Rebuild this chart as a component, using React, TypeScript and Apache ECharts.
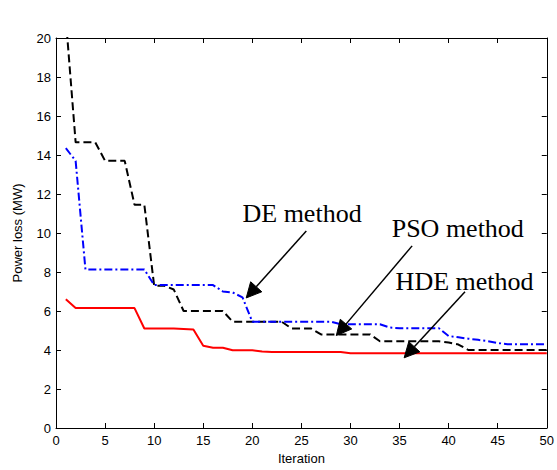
import React, { useEffect, useRef } from "react";
import * as echarts from "echarts";

const iterations = [
  1, 2, 3, 4, 5, 6, 7, 8, 9, 10, 11, 12, 13, 14, 15, 16, 17, 18, 19, 20, 21, 22, 23, 24, 25,
  26, 27, 28, 29, 30, 31, 32, 33, 34, 35, 36, 37, 38, 39, 40, 41, 42, 43, 44, 45, 46, 47, 48, 49, 50,
];

// PSO method (black dashed)
const psoLoss = [
  21, 14.65, 14.65, 14.65, 13.7, 13.7, 13.7, 11.45, 11.45, 7.3,
  7.3, 7.1, 6.0, 6.0, 6.0, 6.0, 6.0, 5.45, 5.45, 5.45,
  5.45, 5.45, 5.45, 5.1, 5.1, 5.1, 4.8, 4.8, 4.8, 4.8,
  4.8, 4.8, 4.45, 4.45, 4.45, 4.45, 4.45, 4.45, 4.45, 4.38,
  4.28, 4.0, 4.0, 4.0, 4.0, 4.0, 4.0, 4.0, 4.0, 4.0,
];

// DE method (blue dash-dot)
const deLoss = [
  14.35, 13.7, 8.13, 8.13, 8.13, 8.13, 8.13, 8.13, 8.13, 7.33,
  7.33, 7.33, 7.33, 7.33, 7.33, 7.33, 7.0, 6.95, 6.7, 5.45,
  5.45, 5.45, 5.45, 5.45, 5.45, 5.45, 5.45, 5.45, 5.32, 5.32,
  5.32, 5.32, 5.32, 5.15, 5.12, 5.12, 5.12, 5.12, 5.12, 4.72,
  4.65, 4.58, 4.52, 4.45, 4.36, 4.3, 4.3, 4.3, 4.3, 4.3,
];

// HDE method (red solid)
const hdeLoss = [
  6.6, 6.15, 6.15, 6.15, 6.15, 6.15, 6.15, 6.15, 5.1, 5.1,
  5.1, 5.1, 5.08, 5.05, 4.22, 4.12, 4.12, 3.99, 3.99, 3.99,
  3.92, 3.9, 3.9, 3.9, 3.9, 3.9, 3.9, 3.9, 3.9, 3.83,
  3.83, 3.83, 3.83, 3.83, 3.83, 3.83, 3.83, 3.83, 3.83, 3.83,
  3.83, 3.83, 3.83, 3.83, 3.83, 3.83, 3.83, 3.83, 3.83, 3.83,
];

const xTicks = { min: 0, max: 50, interval: 5 };
const yTicks = { min: 0, max: 20, interval: 2 };

// annotation anchors in data coordinates (iteration, loss)
const annotationLabels = ["DE method", "PSO method", "HDE method"];
const annotationTextAt = [
  [19.0, 11.02],
  [34.2, 10.24],
  [34.6, 7.5],
];
const annotationFrom = [
  [25.5, 10.1],
  [36.28, 9.34],
  [41.67, 6.99],
];
const annotationTo = [
  [19.38, 6.67],
  [28.56, 4.74],
  [35.47, 3.6],
];

const sansFont = "'Liberation Sans', Arial, Helvetica, sans-serif";
const serifFont = "'Liberation Serif', 'Times New Roman', serif";

function pairs(vals: number[]) {
  return iterations.map((it, i) => [it, vals[i]]);
}

export default function App() {
  const ref = useRef<HTMLDivElement>(null);
  useEffect(() => {
    if (!ref.current) return;
    const chart = echarts.init(ref.current, undefined, { renderer: "svg" });
    const axisCommon = {
      type: "value" as const,
      axisLine: { show: true, onZero: false, lineStyle: { color: "#000", width: 1 } },
      axisTick: { show: true, inside: true, length: 5, lineStyle: { color: "#000", width: 1 } },
      splitLine: { show: false },
    };
    chart.setOption({
      animation: false,
      backgroundColor: "#fff",
      grid: { left: 56, right: 8, top: 38, bottom: 40, containLabel: false },
      xAxis: [
        {
          ...axisCommon,
          ...xTicks,
          position: "bottom",
          axisLabel: { color: "#000", fontSize: 13, fontFamily: sansFont, margin: 6 },
          name: "Iteration",
          nameLocation: "middle",
          nameGap: 24,
          nameTextStyle: { color: "#000", fontSize: 13, fontFamily: sansFont },
        },
        {
          ...axisCommon,
          ...xTicks,
          position: "top",
          axisLabel: { show: false },
        },
      ],
      yAxis: [
        {
          ...axisCommon,
          ...yTicks,
          position: "left",
          axisLabel: { color: "#000", fontSize: 13, fontFamily: sansFont, margin: 5 },
          name: "Power loss (MW)",
          nameLocation: "middle",
          nameGap: 32,
          nameTextStyle: { color: "#000", fontSize: 13, fontFamily: sansFont },
        },
        {
          ...axisCommon,
          ...yTicks,
          position: "right",
          axisLabel: { show: false },
        },
      ],
      series: [
        {
          name: "PSO method",
          type: "line",
          xAxisIndex: 0,
          yAxisIndex: 0,
          data: pairs(psoLoss),
          symbol: "none",
          clip: true,
          lineStyle: { color: "#000", width: 2, type: [8, 4] },
        },
        {
          name: "DE method",
          type: "line",
          xAxisIndex: 0,
          yAxisIndex: 0,
          data: pairs(deLoss),
          symbol: "none",
          clip: true,
          lineStyle: { color: "#0000ff", width: 2, type: [8, 3, 2, 3] },
        },
        {
          name: "HDE method",
          type: "line",
          xAxisIndex: 0,
          yAxisIndex: 0,
          data: pairs(hdeLoss),
          symbol: "none",
          clip: true,
          lineStyle: { color: "#ff0000", width: 2 },
        },
      ],
    });

    const toPx = (p: number[]) =>
      chart.convertToPixel({ xAxisIndex: 0, yAxisIndex: 0 }, p) as number[];
    const graphics: any[] = [];
    annotationLabels.forEach((label, i) => {
      const t = toPx(annotationTextAt[i]);
      const a = toPx(annotationFrom[i]);
      const b = toPx(annotationTo[i]);
      const dx = b[0] - a[0];
      const dy = b[1] - a[1];
      const len = Math.hypot(dx, dy);
      const ux = dx / len;
      const uy = dy / len;
      const headLen = 15;
      const halfW = 7.5;
      const bx = b[0] - ux * headLen;
      const by = b[1] - uy * headLen;
      graphics.push({
        type: "text",
        x: t[0],
        y: t[1],
        style: {
          text: label,
          fill: "#000",
          font: `26px ${serifFont}`,
          textAlign: "left",
          textVerticalAlign: "middle",
        },
        z: 100,
      });
      graphics.push({
        type: "line",
        shape: { x1: a[0], y1: a[1], x2: bx, y2: by },
        style: { stroke: "#000", lineWidth: 1.5 },
        z: 100,
      });
      graphics.push({
        type: "polygon",
        shape: {
          points: [
            [b[0], b[1]],
            [bx - uy * halfW, by + ux * halfW],
            [bx + uy * halfW, by - ux * halfW],
          ],
        },
        style: { fill: "#000", stroke: "#000", lineWidth: 1 },
        z: 100,
      });
    });
    chart.setOption({ graphic: graphics });

    return () => chart.dispose();
  }, []);

  return (
    <div
      ref={ref}
      style={{ position: "fixed", left: 0, top: 0, width: 557, height: 470, background: "#fff" }}
    />
  );
}
